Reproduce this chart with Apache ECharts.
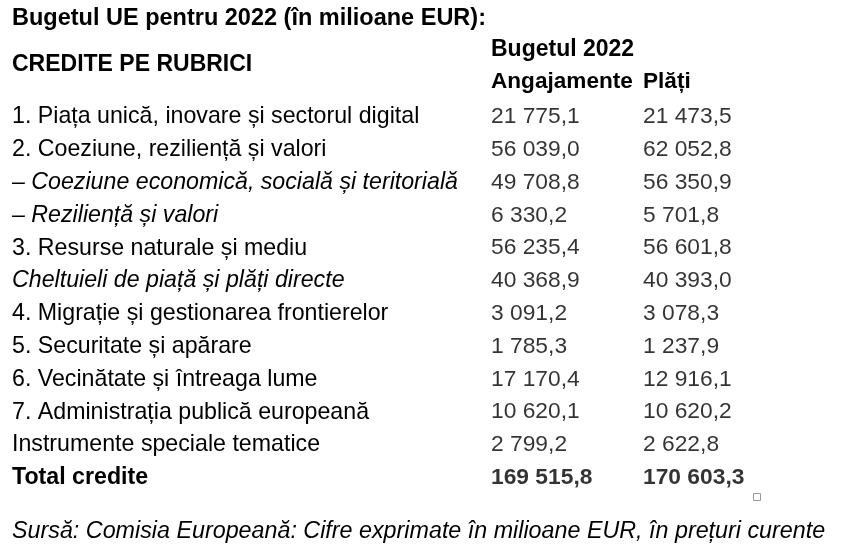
<!DOCTYPE html>
<html>
<head>
<meta charset="utf-8">
<title>Bugetul UE pentru 2022</title>
<script src="https://cdn.jsdelivr.net/npm/echarts@6/dist/echarts.min.js"></script>
<style>
  html, body { margin: 0; padding: 0; background: #fff; }
  #chart { width: 850px; height: 560px; }
</style>
</head>
<body>
<div id="chart"></div>
<script>
var rows = [
  "1. Piața unică, inovare și sectorul digital",
  "2. Coeziune, reziliență și valori",
  "– Coeziune economică, socială și teritorială",
  "– Reziliență și valori",
  "3. Resurse naturale și mediu",
  "Cheltuieli de piață și plăți directe",
  "4. Migrație și gestionarea frontierelor",
  "5. Securitate și apărare",
  "6. Vecinătate și întreaga lume",
  "7. Administrația publică europeană",
  "Instrumente speciale tematice",
  "Total credite"
];
// stil: n = normal, i = italic, b = bold
var rowStyle = ["n", "n", "i", "i", "n", "i", "n", "n", "n", "n", "n", "b"];
var columns = ["Angajamente", "Plăți"];
var angajamente = [21775.1, 56039.0, 49708.8, 6330.2, 56235.4, 40368.9, 3091.2, 1785.3, 17170.4, 10620.1, 2799.2, 169515.8];
var plati = [21473.5, 62052.8, 56350.9, 5701.8, 56601.8, 40393.0, 3078.3, 1237.9, 12916.1, 10620.2, 2622.8, 170603.3];

var FONT = "Liberation Sans, Arial, sans-serif";
var BODY = 23.2;

function fmt(v) {
  var s = v.toFixed(1).split(".");
  return s[0].replace(/\B(?=(\d{3})+(?!\d))/g, " ") + "," + s[1];
}

function colData(values, col) {
  return values.map(function (v, i) {
    return {
      value: [col, rows[i]],
      label: { fontWeight: rowStyle[i] === "b" ? "bold" : "normal" }
    };
  });
}

function colSeries(values, col) {
  return {
    type: "scatter",
    symbolSize: 0,
    silent: true,
    data: colData(values, col),
    label: {
      show: true,
      position: "right",
      distance: 0,
      color: "#000",
      fontFamily: FONT,
      fontSize: 22.8,
      formatter: function (p) { return fmt(values[p.dataIndex]); }
    }
  };
}

var chart = echarts.init(document.getElementById("chart"), null, { renderer: "canvas" });

chart.setOption({
  backgroundColor: "#fff",
  animation: false,
  title: [
    {
      text: "Bugetul UE pentru 2022 (în milioane EUR):",
      left: 12, top: 7, padding: 0,
      textStyle: { fontFamily: FONT, fontSize: 23.5, fontWeight: "bold", color: "#000" }
    },
    {
      text: "CREDITE PE RUBRICI",
      left: 12, top: 53, padding: 0,
      textStyle: { fontFamily: FONT, fontSize: 23, fontWeight: "bold", color: "#000" }
    },
    {
      text: "Bugetul 2022",
      left: 491, top: 38, padding: 0,
      textStyle: { fontFamily: FONT, fontSize: 23, fontWeight: "bold", color: "#000" }
    },
    {
      text: "Sursă: Comisia Europeană: Cifre exprimate în milioane EUR, în prețuri curente",
      left: 12, top: 520, padding: 0,
      textStyle: { fontFamily: FONT, fontSize: 23.3, fontStyle: "italic", fontWeight: "normal", color: "#000" }
    }
  ],
  grid: { left: 491, right: 207, top: 100.6, bottom: 65.8, containLabel: false },
  xAxis: {
    type: "category",
    data: columns,
    position: "top",
    boundaryGap: false,
    axisLine: { show: false },
    axisTick: { show: false },
    splitLine: { show: false },
    axisLabel: {
      align: "left",
      margin: 7,
      interval: 0,
      color: "#000",
      fontFamily: FONT,
      fontSize: 22.6,
      fontWeight: "bold"
    }
  },
  yAxis: {
    type: "category",
    data: rows,
    inverse: true,
    axisLine: { show: false },
    axisTick: { show: false },
    splitLine: { show: false },
    axisLabel: {
      align: "left",
      margin: 479,
      interval: 0,
      color: "#000",
      fontFamily: FONT,
      fontSize: BODY,
      formatter: function (v) {
        var st = rowStyle[rows.indexOf(v)];
        return "{" + st + "|" + v + "}";
      },
      rich: {
        n: { fontFamily: FONT, fontSize: BODY, color: "#000" },
        i: { fontFamily: FONT, fontSize: BODY, color: "#000", fontStyle: "italic" },
        b: { fontFamily: FONT, fontSize: BODY, color: "#000", fontWeight: "bold" }
      }
    }
  },
  graphic: [
    {
      type: "rect",
      left: 753, top: 493,
      shape: { width: 7, height: 7 },
      style: { fill: "#fff", stroke: "#999", lineWidth: 1 }
    }
  ],
  series: [colSeries(angajamente, 0), colSeries(plati, 1)]
});
</script>
</body>
</html>
